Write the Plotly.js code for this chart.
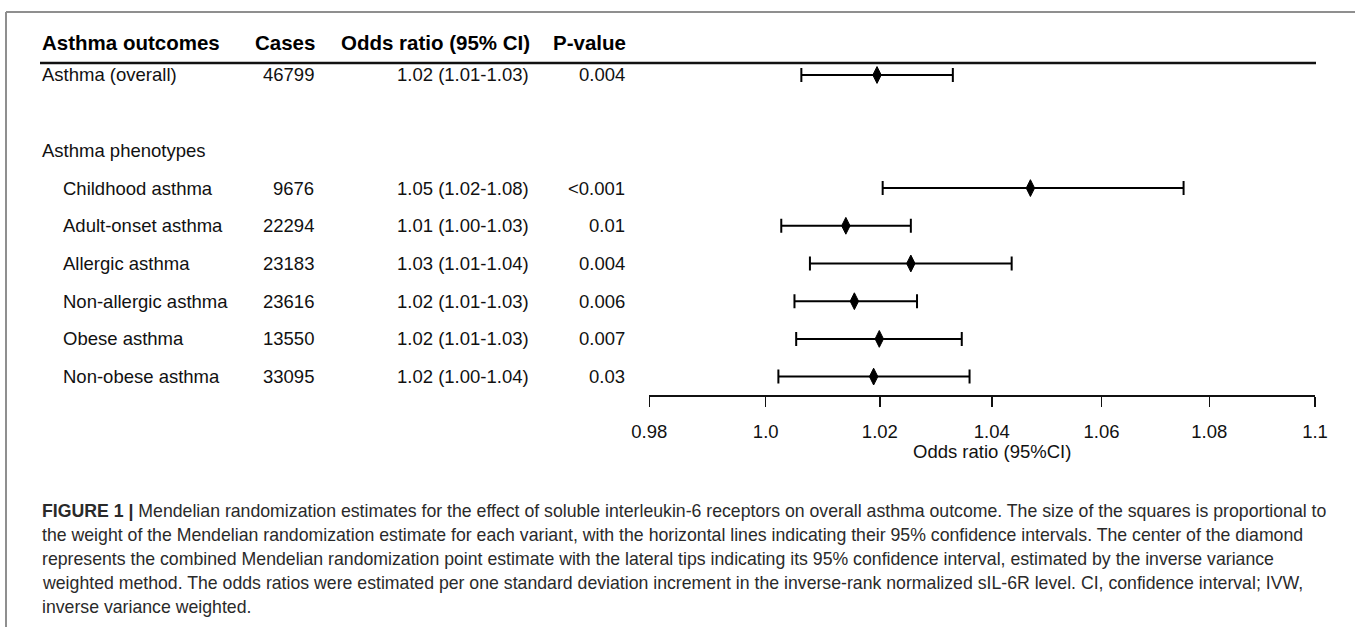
<!DOCTYPE html>
<html>
<head>
<meta charset="utf-8">
<script src="https://cdn.plot.ly/plotly-3.0.1.min.js"></script>
<style>
  html, body { margin: 0; padding: 0; background: #ffffff; }
  #chart { width: 1355px; height: 627px; }
</style>
</head>
<body>
<div id="chart"></div>
<script>
// ---------------- data ----------------
const outcomes = ["Asthma (overall)", "Childhood asthma", "Adult-onset asthma", "Allergic asthma",
                  "Non-allergic asthma", "Obese asthma", "Non-obese asthma"];
const cases = [46799, 9676, 22294, 23183, 23616, 13550, 33095];
const orText = ["1.02 (1.01-1.03)", "1.05 (1.02-1.08)", "1.01 (1.00-1.03)", "1.03 (1.01-1.04)",
                "1.02 (1.01-1.03)", "1.02 (1.01-1.03)", "1.02 (1.00-1.04)"];
const pText = ["0.004", "<0.001", "0.01", "0.004", "0.006", "0.007", "0.03"];
const orEst  = [1.0195, 1.0470, 1.0140, 1.0255, 1.0155, 1.0199, 1.0189];
const ciLow  = [1.0062, 1.0205, 1.0027, 1.0077, 1.0050, 1.0053, 1.0022];
const ciHigh = [1.0330, 1.0752, 1.0255, 1.0436, 1.0266, 1.0346, 1.0360];
const groupLabel = "Asthma phenotypes";
const headers = ["Asthma outcomes", "Cases", "Odds ratio (95% CI)", "P-value"];
const xTicks = [0.98, 1.0, 1.02, 1.04, 1.06, 1.08, 1.1];
const xTickLabels = ["0.98", "1.0", "1.02", "1.04", "1.06", "1.08", "1.1"];
const xTitle = "Odds ratio (95%CI)";
const captionLines = [
  "<b>FIGURE 1 |</b> Mendelian randomization estimates for the effect of soluble interleukin-6 receptors on overall asthma outcome. The size of the squares is proportional to",
  "the weight of the Mendelian randomization estimate for each variant, with the horizontal lines indicating their 95% confidence intervals. The center of the diamond",
  "represents the combined Mendelian randomization point estimate with the lateral tips indicating its 95% confidence interval, estimated by the inverse variance",
  "weighted method. The odds ratios were estimated per one standard deviation increment in the inverse-rank normalized sIL-6R level. CI, confidence interval; IVW,",
  "inverse variance weighted."
];

// ---------------- layout helpers ----------------
const W = 1355, H = 627;
const px = v => v / W;
const py = v => 1 - v / H;
const FONT = "Liberation Sans, Arial, Helvetica, sans-serif";
const GAP = "\u200b";   // hidden blank row between overall and phenotypes
const categories = [outcomes[0], GAP, groupLabel].concat(outcomes.slice(1));

const trace = {
  type: "scatter",
  mode: "markers",
  x: orEst,
  y: outcomes,
  marker: { symbol: "diamond-tall", size: 12, color: "#000000", line: { color: "#000000", width: 1 } },
  error_x: {
    type: "data", symmetric: false,
    array: orEst.map((v, i) => ciHigh[i] - v),
    arrayminus: orEst.map((v, i) => v - ciLow[i]),
    color: "#000000", thickness: 2, width: 7
  },
  hoverinfo: "skip",
  showlegend: false,
  cliponaxis: false
};

const annotations = [];
const tableFont = { family: FONT, size: 18.5, color: "#111111" };
const headFont = { family: FONT, size: 20.5, color: "#000000" };
const headY = py(42);
annotations.push({ xref: "paper", yref: "paper", x: px(40), y: headY, xanchor: "left", yanchor: "middle",
  text: "<b>" + headers[0] + "</b>", showarrow: false, font: headFont });
annotations.push({ xref: "paper", yref: "paper", x: px(317), y: headY, xanchor: "right", yanchor: "middle",
  text: "<b>" + headers[1] + "</b>", showarrow: false, font: headFont });
annotations.push({ xref: "paper", yref: "paper", x: px(532), y: headY, xanchor: "right", yanchor: "middle",
  text: "<b>" + headers[2] + "</b>", showarrow: false, font: headFont });
annotations.push({ xref: "paper", yref: "paper", x: px(628), y: headY, xanchor: "right", yanchor: "middle",
  text: "<b>" + headers[3] + "</b>", showarrow: false, font: headFont });

outcomes.forEach((name, i) => {
  annotations.push({ xref: "paper", yref: "y", x: px(i === 0 ? 40 : 61), y: name, xanchor: "left", yanchor: "middle",
    text: name, showarrow: false, font: tableFont });
  annotations.push({ xref: "paper", yref: "y", x: px(316), y: name, xanchor: "right", yanchor: "middle",
    text: String(cases[i]), showarrow: false, font: tableFont });
  annotations.push({ xref: "paper", yref: "y", x: px(531), y: name, xanchor: "right", yanchor: "middle",
    text: orText[i], showarrow: false, font: tableFont });
  annotations.push({ xref: "paper", yref: "y", x: px(627), y: name, xanchor: "right", yanchor: "middle",
    text: pText[i], showarrow: false, font: tableFont });
});
annotations.push({ xref: "paper", yref: "y", x: px(40), y: groupLabel, xanchor: "left", yanchor: "middle",
  text: groupLabel, showarrow: false, font: tableFont });

// axis title centred under 1.04
annotations.push({ xref: "x", yref: "paper", x: Math.log10(xTicks[3]), y: py(451), xanchor: "center", yanchor: "middle",
  text: xTitle, showarrow: false, font: { family: FONT, size: 18.5, color: "#111111" } });

// caption
captionLines.forEach((line, i) => {
  annotations.push({ xref: "paper", yref: "paper", x: px(40), y: py(511 + i * 24), xanchor: "left", yanchor: "middle",
    text: line, showarrow: false, align: "left",
    font: { family: FONT, size: 17.7, color: "#2a2a2a" } });
});

const shapes = [
  // outer grey frame (top and left)
  { type: "line", xref: "paper", yref: "paper", x0: px(6), x1: 1, y0: py(12), y1: py(12),
    line: { color: "#8f8f8f", width: 2 } },
  { type: "line", xref: "paper", yref: "paper", x0: px(6), x1: px(6), y0: py(12), y1: 0,
    line: { color: "#8f8f8f", width: 2 } },
  // header underline
  { type: "line", xref: "paper", yref: "paper", x0: px(40), x1: px(1316), y0: py(63), y1: py(63),
    line: { color: "#111111", width: 2.5 } },
  // reference line at OR = 1
  { type: "line", xref: "x", yref: "paper", x0: Math.log10(xTicks[1]), x1: Math.log10(xTicks[1]),
    y0: py(64), y1: py(395), line: { color: "#d9d9d9", width: 1.5 }, layer: "below" }
];

const layout = {
  width: W, height: H,
  margin: { l: 0, r: 0, t: 0, b: 0 },
  paper_bgcolor: "#ffffff", plot_bgcolor: "rgba(0,0,0,0)",
  showlegend: false,
  xaxis: {
    type: "log",
    domain: [px(649.3), px(1315)],
    range: [Math.log10(xTicks[0]), Math.log10(xTicks[xTicks.length - 1])],
    tickmode: "array", tickvals: xTicks, ticktext: xTickLabels,
    ticks: "outside", ticklen: 10, tickwidth: 1.5, tickcolor: "#111111",
    ticklabelstandoff: 9,
    showline: true, linecolor: "#111111", linewidth: 1.5,
    showgrid: false, zeroline: false,
    tickfont: { family: FONT, size: 18.5, color: "#111111" },
    anchor: "y", fixedrange: true
  },
  yaxis: {
    type: "category",
    categoryorder: "array", categoryarray: categories,
    range: [8.488, -0.318],
    domain: [py(395), py(63)],
    showticklabels: false, showgrid: false, zeroline: false, showline: false, ticks: "",
    fixedrange: true
  },
  annotations: annotations,
  shapes: shapes
};

Plotly.newPlot("chart", [trace], layout, { displayModeBar: false, staticPlot: true });
</script>
</body>
</html>
